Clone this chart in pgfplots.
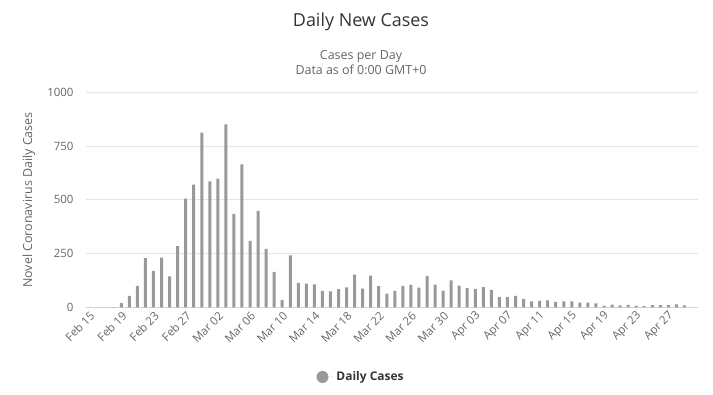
\documentclass[border=0pt]{standalone}
\usepackage{fontspec}
\setmainfont{Open Sans}
\usepackage{pgfplots}
\pgfplotsset{compat=1.18}
\usepackage{pgfplotstable}
\definecolor{titlec}{HTML}{333333}
\definecolor{labc}{HTML}{666666}
\definecolor{gridc}{HTML}{E6E6E6}
\definecolor{axc}{HTML}{CCD6EB}
\definecolor{barc}{HTML}{999999}
\pgfplotstableread{
d v
0 0
1 0
2 0
3 1
4 20
5 53
6 100
7 229
8 169
9 231
10 144
11 284
12 505
13 571
14 813
15 586
16 599
17 851
18 435
19 665
20 309
21 448
22 272
23 165
24 35
25 242
26 114
27 110
28 107
29 76
30 74
31 84
32 93
33 152
34 87
35 147
36 98
37 64
38 76
39 100
40 104
41 91
42 146
43 105
44 78
45 125
46 101
47 89
48 86
49 94
50 81
51 47
52 47
53 53
54 39
55 27
56 30
57 32
58 25
59 27
60 27
61 22
62 22
63 18
64 8
65 13
66 9
67 11
68 8
69 6
70 10
71 10
72 10
73 14
74 9
}\cases
\begin{document}
\begin{tikzpicture}[x=1bp,y=1bp]
\useasboundingbox (0,0) rectangle (713,394);
\node[text=titlec,font=\fontsize{18}{22}\selectfont] at (361,372) {Daily New Cases};
\node[text=labc,font=\fontsize{12.5}{15}\selectfont] at (361,338) {Cases per Day};
\node[text=labc,font=\fontsize{12.5}{15}\selectfont] at (361,324) {Data as of 0:00 GMT+0};
\node[text=labc,rotate=90,font=\fontsize{12.5}{14}\selectfont] at (29,194) {Novel Coronavirus Daily Cases};
\begin{axis}[
  at={(86bp,86.7bp)}, anchor=south west,
  scale only axis, width=611.7bp, height=215bp,
  xmin=-0.39, xmax=75.65, ymin=0, ymax=1000,
  ytick={0,250,500,750,1000},
  xtick={0,4,...,72},
  xticklabels={Feb 15,Feb 19,Feb 23,Feb 27,Mar 02,Mar 06,Mar 10,Mar 14,Mar 18,Mar 22,Mar 26,Mar 30,Apr 03,Apr 07,Apr 11,Apr 15,Apr 19,Apr 23,Apr 27},
  axis lines*=left,
  y axis line style={draw=none},
  x axis line style={draw=axc,line width=1bp},
  major tick length=0pt,
  ymajorgrids, grid style={draw=gridc,line width=1bp},
  /pgf/number format/assume math mode=true,
  /pgf/number format/1000 sep={},
  yticklabel style={text=labc,font=\fontsize{11.5}{13}\selectfont,xshift=-9bp},
  xticklabel style={text=labc,font=\fontsize{11.5}{13}\selectfont,rotate=45,anchor=east,xshift=1bp,yshift=-7bp},
  legend style={at={(0.4496,-0.324)},anchor=center,draw=none,fill=none,font=\fontsize{12}{14}\selectfont\bfseries,text=titlec},
  legend image code/.code={\fill[barc] (0bp,0bp) circle (6bp); \path (-6bp,0bp) -- (12bp,0bp);},
]
\addplot[ybar, bar width=3bp, fill=barc, draw=none] table[x=d,y=v] {\cases};
\addlegendentry{Daily Cases}
\end{axis}
\end{tikzpicture}
\end{document}
